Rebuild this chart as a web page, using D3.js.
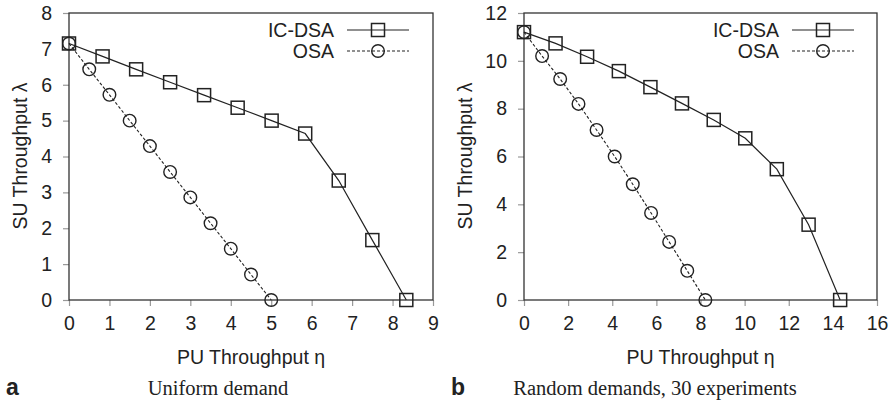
<!DOCTYPE html>
<html>
<head>
<meta charset="utf-8">
<script src="https://cdn.jsdelivr.net/npm/d3@7/dist/d3.min.js"></script>
<style>
  body { margin: 0; background: #fff; }
  svg text { font-family: "Liberation Sans", Arial, sans-serif; fill: #222; }
</style>
</head>
<body>
<script>
const width = 892;
const height = 405;

// panel a: uniform demand
const aIcdsaX = [0, 0.83, 1.66, 2.5, 3.34, 4.17, 5.01, 5.84, 6.67, 7.5, 8.34];
const aIcdsaY = [7.15, 6.79, 6.43, 6.07, 5.71, 5.36, 5.0, 4.64, 3.33, 1.67, 0];
const aOsaX = [0, 0.5, 1.0, 1.5, 2.0, 2.5, 3.0, 3.5, 4.0, 4.5, 5.0];
const aOsaY = [7.15, 6.43, 5.72, 5.0, 4.29, 3.57, 2.86, 2.14, 1.43, 0.71, 0];
const aXTicks = [0, 1, 2, 3, 4, 5, 6, 7, 8, 9];
const aYTicks = [0, 1, 2, 3, 4, 5, 6, 7, 8];

// panel b: random demands
const bIcdsaX = [0, 1.43, 2.86, 4.3, 5.73, 7.16, 8.6, 10.03, 11.46, 12.9, 14.33];
const bIcdsaY = [11.2, 10.73, 10.17, 9.57, 8.9, 8.22, 7.53, 6.76, 5.47, 3.15, 0];
const bOsaX = [0, 0.82, 1.64, 2.47, 3.29, 4.11, 4.93, 5.76, 6.58, 7.4, 8.22];
const bOsaY = [11.2, 10.2, 9.24, 8.2, 7.11, 6.0, 4.84, 3.64, 2.43, 1.22, 0];
const bXTicks = [0, 2, 4, 6, 8, 10, 12, 14, 16];
const bYTicks = [0, 2, 4, 6, 8, 10, 12];

const seriesNames = ['IC-DSA', 'OSA'];

const svg = d3.select('body').append('svg')
  .attr('width', width)
  .attr('height', height);

function drawPanel(p) {
  const x = d3.scaleLinear().domain([0, p.xMax]).range([p.left, p.right]);
  const y = d3.scaleLinear().domain([0, p.yMax]).range([300, 13]);
  const g = svg.append('g');

  // ticks + labels
  const xAxis = g.append('g')
    .attr('transform', `translate(0,${y(0)})`)
    .call(d3.axisBottom(x).tickValues(p.xTicks).tickSize(6).tickPadding(10).tickFormat(d3.format('d')));
  const yAxis = g.append('g')
    .attr('transform', `translate(${x(0)},0)`)
    .call(d3.axisLeft(y).tickValues(p.yTicks).tickSize(6).tickPadding(11).tickFormat(d3.format('d')));
  [xAxis, yAxis].forEach(a => {
    a.select('.domain').remove();
    a.selectAll('line').attr('stroke', '#999').attr('stroke-width', 1.2);
    a.selectAll('text').attr('font-size', 19.5).attr('fill', '#222')
      .style('font-family', '"Liberation Sans", Arial, sans-serif');
  });

  // frame
  g.append('rect')
    .attr('x', x(0)).attr('y', y(p.yMax))
    .attr('width', x(p.xMax) - x(0)).attr('height', y(0) - y(p.yMax))
    .attr('fill', 'none').attr('stroke', '#333').attr('stroke-width', 1.3);

  const line = d3.line().x(d => x(d[0])).y(d => y(d[1]));
  const ic = d3.zip(p.icX, p.icY);
  const osa = d3.zip(p.osaX, p.osaY);

  g.append('path').datum(osa).attr('d', line)
    .attr('fill', 'none').attr('stroke', '#222').attr('stroke-width', 1.1)
    .attr('stroke-dasharray', '3,2');
  g.append('path').datum(ic).attr('d', line)
    .attr('fill', 'none').attr('stroke', '#222').attr('stroke-width', 1.2);

  g.selectAll('.sq').data(ic).enter().append('rect')
    .attr('x', d => x(d[0]) - 6.5).attr('y', d => y(d[1]) - 6.5)
    .attr('width', 13).attr('height', 13)
    .attr('fill', 'none').attr('stroke', '#222').attr('stroke-width', 1.5);
  g.selectAll('.ci').data(osa).enter().append('circle')
    .attr('cx', d => x(d[0])).attr('cy', d => y(d[1])).attr('r', 6.3)
    .attr('fill', 'none').attr('stroke', '#222').attr('stroke-width', 1.4);

  // legend
  const lx = p.legendX;
  const rows = [
    { name: seriesNames[0], y: 30, dash: null },
    { name: seriesNames[1], y: 51, dash: '3,2' }
  ];
  rows.forEach((r, i) => {
    g.append('text').attr('x', lx).attr('y', r.y).attr('dy', '0.35em')
      .attr('text-anchor', 'end').attr('font-size', 19.5).text(r.name);
    g.append('line').attr('x1', lx + 13).attr('x2', lx + 75)
      .attr('y1', r.y).attr('y2', r.y)
      .attr('stroke', '#222').attr('stroke-width', i ? 1.1 : 1.2)
      .attr('stroke-dasharray', r.dash);
    if (i === 0) {
      g.append('rect').attr('x', lx + 44 - 6.5).attr('y', r.y - 6.5)
        .attr('width', 13).attr('height', 13)
        .attr('fill', 'none').attr('stroke', '#222').attr('stroke-width', 1.5);
    } else {
      g.append('circle').attr('cx', lx + 44).attr('cy', r.y).attr('r', 6.3)
        .attr('fill', 'none').attr('stroke', '#222').attr('stroke-width', 1.4);
    }
  });

  // axis titles
  g.append('text')
    .attr('x', (p.left + p.right) / 2).attr('y', 364)
    .attr('text-anchor', 'middle').attr('font-size', 19.5)
    .text('PU Throughput \u03b7');
  g.append('text')
    .attr('transform', `translate(${p.yTitleX},156) rotate(-90)`)
    .attr('text-anchor', 'middle').attr('font-size', 19.5)
    .text('SU Throughput \u03bb');

  // caption
  g.append('text').attr('x', p.letterX).attr('y', 395)
    .attr('font-size', 23).attr('font-weight', 'bold').text(p.letter);
  g.append('text').attr('x', p.captionX).attr('y', 395)
    .attr('text-anchor', 'middle').attr('font-size', 20.5)
    .style('font-family', '"Liberation Serif", "Times New Roman", serif')
    .text(p.caption);
}

drawPanel({
  left: 69, right: 433, xMax: 9, yMax: 8,
  xTicks: aXTicks, yTicks: aYTicks,
  icX: aIcdsaX, icY: aIcdsaY, osaX: aOsaX, osaY: aOsaY,
  legendX: 334, yTitleX: 27, letter: 'a', letterX: 6,
  caption: 'Uniform demand', captionX: 218
});
drawPanel({
  left: 524, right: 877, xMax: 16, yMax: 12,
  xTicks: bXTicks, yTicks: bYTicks,
  icX: bIcdsaX, icY: bIcdsaY, osaX: bOsaX, osaY: bOsaY,
  legendX: 779, yTitleX: 472, letter: 'b', letterX: 451,
  caption: 'Random demands, 30 experiments', captionX: 655
});
</script>
</body>
</html>
